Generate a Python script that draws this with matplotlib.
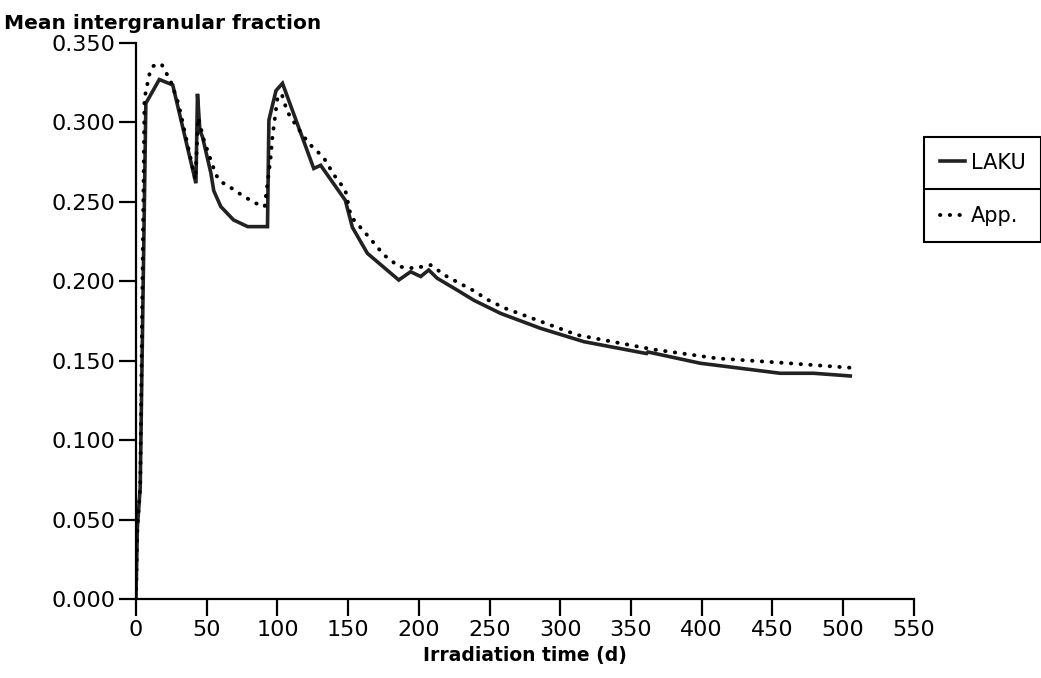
import matplotlib.pyplot as plt
from matplotlib.lines import Line2D

# LAKU (solid)
laku_t = [0, 1, 3, 7, 16.5, 26, 42.4, 43.5, 45.2, 47, 53, 55, 60, 69, 79, 93,
          94, 99, 103.6, 125.7, 130.6, 148, 153, 163.6, 185.8, 194.2, 201.3,
          207, 213, 227, 239, 257.8, 286, 316.6, 361, 362, 399, 455.5, 479, 505]
laku_v = [0.0, 0.045, 0.07, 0.312, 0.327, 0.3236, 0.2617, 0.318, 0.295, 0.291,
          0.268, 0.257, 0.247, 0.2386, 0.2344, 0.2344,
          0.3015, 0.320, 0.3246, 0.271, 0.273, 0.251, 0.234, 0.2176, 0.2008,
          0.206, 0.203, 0.2071, 0.2019, 0.1945, 0.188, 0.1798, 0.1704, 0.162,
          0.1545, 0.1555, 0.1484, 0.1421, 0.1421, 0.1404]

# App. (dotted)
app_t = [0, 1, 3, 6, 9.4, 12.2, 18, 21.2, 24.7, 30, 42, 44, 48, 56.5, 60, 66,
         71.8, 78, 83.5, 91, 95.3, 96.5, 100, 103, 107, 114, 122, 129.5, 133,
         140, 148, 152, 162.4, 175.4, 186, 196.5, 208.3, 220, 237.8, 249.5,
         261, 312, 365, 410.7, 460, 505]
app_v = [0.0, 0.045, 0.07, 0.315, 0.330, 0.3355, 0.3368, 0.3315, 0.3256, 0.312,
         0.264, 0.303, 0.289, 0.267, 0.2627, 0.2596, 0.256, 0.2526, 0.2495,
         0.247, 0.2784, 0.291, 0.315, 0.318, 0.3067, 0.297, 0.287, 0.2806,
         0.2774, 0.2669, 0.2575, 0.2407, 0.2302, 0.2165, 0.2092, 0.2082,
         0.2102, 0.2029, 0.1945, 0.188, 0.183, 0.1662, 0.1572, 0.1515, 0.1485,
         0.1456]

x_ticks = [0, 50, 100, 150, 200, 250, 300, 350, 400, 450, 500, 550]
y_ticks = [0.0, 0.05, 0.1, 0.15, 0.2, 0.25, 0.3, 0.35]

plt.rcParams['font.family'] = ['DejaVu Sans']

fig = plt.figure(figsize=(10.41, 6.78), dpi=100)
ax = fig.add_axes([0.1306, 0.1165, 0.7473, 0.8201])

ax.plot(laku_t, laku_v, color='#222222', lw=2.6, solid_joinstyle='miter', label='LAKU')
ax.plot(app_t, app_v, color='black', lw=2.8, linestyle=(0, (0.1, 2.4)),
        dash_capstyle='round', label='App.')

ax.set_xlim(0, 550)
ax.set_ylim(0, 0.35)
ax.set_xticks(x_ticks)
ax.set_yticks(y_ticks)
ax.set_yticklabels([f'{v:.3f}' for v in y_ticks])
ax.spines['top'].set_visible(False)
ax.spines['right'].set_visible(False)
for s in ('left', 'bottom'):
    ax.spines[s].set_linewidth(1.6)
ax.tick_params(direction='out', length=12, width=1.6, labelsize=16, pad=3)

fig.text(0.004, 0.965, 'Mean intergranular fraction', fontsize=14.5, fontweight='bold',
         ha='left', va='center')
ax.set_xlabel('Irradiation time (d)', fontsize=13.5, fontweight='bold')
ax.xaxis.set_label_coords(0.5, -0.085)

leg = fig.legend(loc='upper left', bbox_to_anchor=(0.8876, 0.798), fontsize=15,
                 frameon=True, fancybox=False, edgecolor='black', framealpha=1,
                 handlelength=1.2, handletextpad=0.3, borderpad=0.75,
                 labelspacing=1.6, borderaxespad=0)
leg.get_frame().set_linewidth(1.5)

fig.canvas.draw()
bb = leg.get_window_extent().transformed(fig.transFigure.inverted())
ymid = (bb.y0 + bb.y1) / 2
fig.add_artist(Line2D([bb.x0, bb.x1], [ymid, ymid], transform=fig.transFigure,
                      color='black', lw=1.5, zorder=10))

fig.savefig('out.png', dpi=100)
